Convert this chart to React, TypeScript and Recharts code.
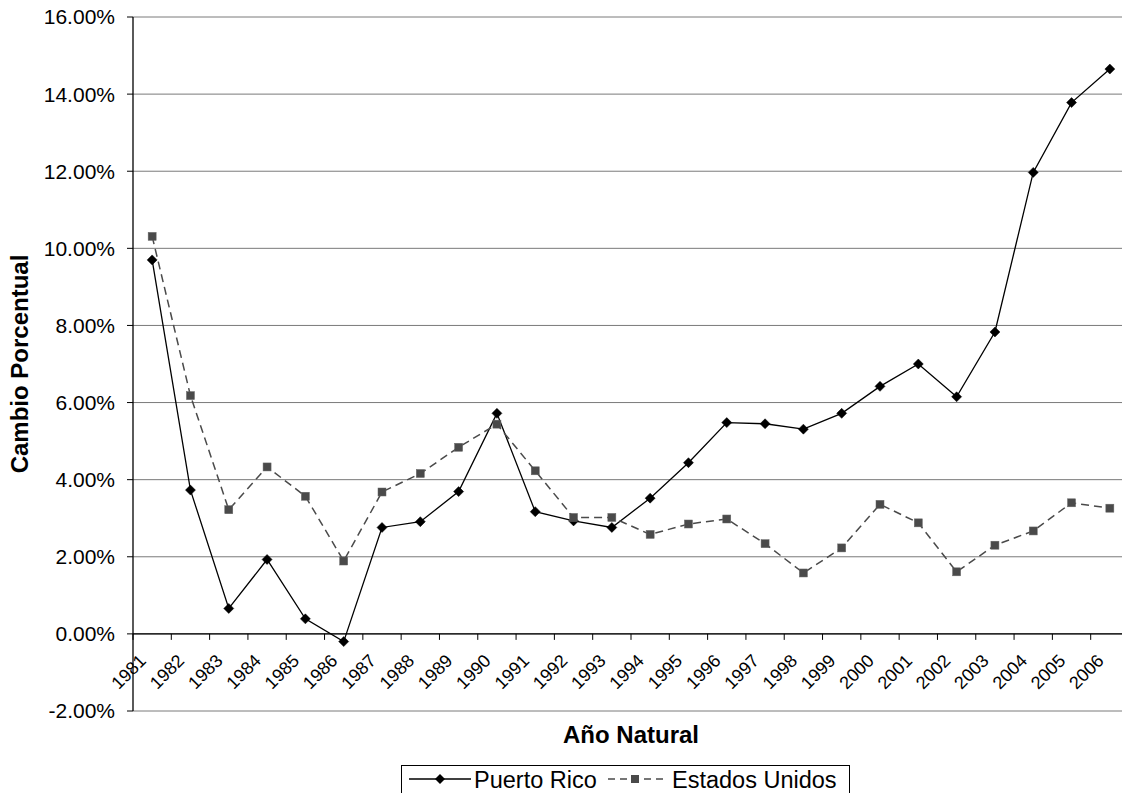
import React from 'react';
import { LineChart, Line, XAxis, YAxis, CartesianGrid, ReferenceLine, Legend } from 'recharts';

const years = ['1981', '1982', '1983', '1984', '1985', '1986', '1987', '1988', '1989', '1990', '1991', '1992', '1993', '1994', '1995', '1996', '1997', '1998', '1999', '2000', '2001', '2002', '2003', '2004', '2005', '2006'];
const puertoRico = [9.70, 3.73, 0.66, 1.93, 0.39, -0.20, 2.76, 2.91, 3.69, 5.72, 3.17, 2.93, 2.76, 3.52, 4.44, 5.48, 5.45, 5.31, 5.72, 6.42, 7.00, 6.15, 7.83, 11.97, 13.78, 14.65];
const estadosUnidos = [10.31, 6.18, 3.22, 4.33, 3.57, 1.89, 3.68, 4.16, 4.84, 5.44, 4.23, 3.02, 3.02, 2.58, 2.85, 2.98, 2.34, 1.58, 2.23, 3.36, 2.88, 1.61, 2.30, 2.67, 3.40, 3.26];
const yTicks = [-2, 0, 2, 4, 6, 8, 10, 12, 14, 16];
const seriesNames = { pr: 'Puerto Rico', us: 'Estados Unidos' };
const xTitle = 'Año Natural';
const yTitle = 'Cambio Porcentual';

const data = years.map((y, i) => ({ year: y, pr: puertoRico[i], us: estadosUnidos[i] }));

const FONT = '"Liberation Sans", Arial, Helvetica, sans-serif';
const CHART_W = 1140;
const CHART_H = 800;
const MARGIN = { top: 17, right: 11, left: 0, bottom: 88 };
const Y_AXIS_W = 133;
const X_AXIS_H = 1;
const PLOT_LEFT = MARGIN.left + Y_AXIS_W;
const PLOT_TOP = MARGIN.top;
const PLOT_W = CHART_W - MARGIN.right - PLOT_LEFT;
const PLOT_H = CHART_H - MARGIN.bottom - X_AXIS_H - PLOT_TOP;
const Y_MIN = yTicks[0];
const Y_MAX = yTicks[yTicks.length - 1];
const ZERO_Y = PLOT_TOP + (PLOT_H * (Y_MAX - 0)) / (Y_MAX - Y_MIN);
const BAND = PLOT_W / years.length;

const PR_COLOR = '#000000';
const US_COLOR = '#4a4a4a';

const Diamond = (props: any) => {
  const { cx, cy, index } = props;
  if (cx == null || cy == null) return <g key={`d-${index}`} />;
  const r = 5;
  return <path key={`d-${index}`} d={`M${cx},${cy - r}L${cx + r},${cy}L${cx},${cy + r}L${cx - r},${cy}Z`} fill={PR_COLOR} stroke={PR_COLOR} strokeWidth={0.5} />;
};

const Square = (props: any) => {
  const { cx, cy, index } = props;
  if (cx == null || cy == null) return <g key={`s-${index}`} />;
  const h = 4;
  return <rect key={`s-${index}`} x={cx - h} y={cy - h} width={h * 2} height={h * 2} fill={US_COLOR} stroke="#666" strokeWidth={0.5} />;
};

const XTick = (props: any) => {
  const { x, payload } = props;
  const idx = years.indexOf(String(payload.value));
  const half = BAND / 2;
  const ax = x - 5;
  const ay = ZERO_Y + 28;
  return (
    <g>
      <line x1={x - half} x2={x - half} y1={ZERO_Y} y2={ZERO_Y + 6} stroke="#000" strokeWidth={1} />
      {idx === years.length - 1 && (
        <line x1={x + half} x2={x + half} y1={ZERO_Y} y2={ZERO_Y + 6} stroke="#000" strokeWidth={1} />
      )}
      <text x={ax} y={ay} transform={`rotate(-45, ${ax}, ${ay})`} textAnchor="end" fontSize={18} fontFamily={FONT} fill="#000">
        {payload.value}
      </text>
    </g>
  );
};

const XTitle = () => (
  <text x={PLOT_LEFT + PLOT_W / 2} y={743} textAnchor="middle" fontSize={24} fontWeight="bold" fontFamily={FONT} fill="#000">
    {xTitle}
  </text>
);

const YTitle = () => (
  <text x={28} y={PLOT_TOP + PLOT_H / 2} transform={`rotate(-90, 28, ${PLOT_TOP + PLOT_H / 2})`} textAnchor="middle" fontSize={24} fontWeight="bold" fontFamily={FONT} fill="#000">
    {yTitle}
  </text>
);

const LegendBox = () => (
  <svg width={449} height={40} style={{ display: 'block', overflow: 'visible' }}>
    <rect x={0.5} y={0.5} width={448} height={60} fill="#fff" stroke="#000" strokeWidth={1} />
    <line x1={8} x2={70} y1={14} y2={14} stroke={PR_COLOR} strokeWidth={1.3} />
    <path d="M39,9L44,14L39,19L34,14Z" fill={PR_COLOR} />
    <text x={73} y={23} fontSize={23.5} fontFamily={FONT} fill="#000">{seriesNames.pr}</text>
    <line x1={207} x2={262} y1={14} y2={14} stroke={US_COLOR} strokeWidth={1.5} strokeDasharray="7 5" />
    <rect x={230} y={10} width={8} height={8} fill={US_COLOR} />
    <text x={271} y={23} fontSize={23.5} fontFamily={FONT} fill="#000">{seriesNames.us}</text>
  </svg>
);

export default function App() {
  return (
    <div style={{ position: 'absolute', left: 0, top: 0, width: 1122, height: 793, overflow: 'hidden', background: '#fff' }}>
      <LineChart width={CHART_W} height={CHART_H} data={data} margin={MARGIN}>
        <CartesianGrid horizontal vertical={false} stroke="#7a7a7a" strokeWidth={1} />
        <XAxis
          dataKey="year"
          type="category"
          height={X_AXIS_H}
          interval={0}
          axisLine={false}
          tickLine={false}
          tick={<XTick />}
          padding={{ left: BAND / 2, right: BAND / 2 }}
          label={<XTitle />}
        />
        <YAxis
          width={Y_AXIS_W}
          domain={[Y_MIN, Y_MAX]}
          ticks={yTicks}
          interval={0}
          tickFormatter={(v: number) => `${v.toFixed(2)}%`}
          tick={{ fontSize: 21, fill: '#000', fontFamily: FONT }}
          tickSize={6}
          tickMargin={12}
          axisLine={{ stroke: '#000', strokeWidth: 1.3 }}
          tickLine={{ stroke: '#000' }}
          label={<YTitle />}
        />
        <ReferenceLine y={0} stroke="#000" strokeWidth={1.3} />
        <Line
          type="linear"
          dataKey="pr"
          name={seriesNames.pr}
          stroke={PR_COLOR}
          strokeWidth={1.3}
          dot={Diamond}
          activeDot={false}
          isAnimationActive={false}
        />
        <Line
          type="linear"
          dataKey="us"
          name={seriesNames.us}
          stroke={US_COLOR}
          strokeWidth={1.5}
          strokeDasharray="8 5"
          dot={Square}
          activeDot={false}
          isAnimationActive={false}
        />
        <Legend
          layout="horizontal"
          verticalAlign="middle"
          align="center"
          wrapperStyle={{ left: 401, top: 765, width: 449, height: 40 }}
          content={LegendBox}
        />
      </LineChart>
    </div>
  );
}
